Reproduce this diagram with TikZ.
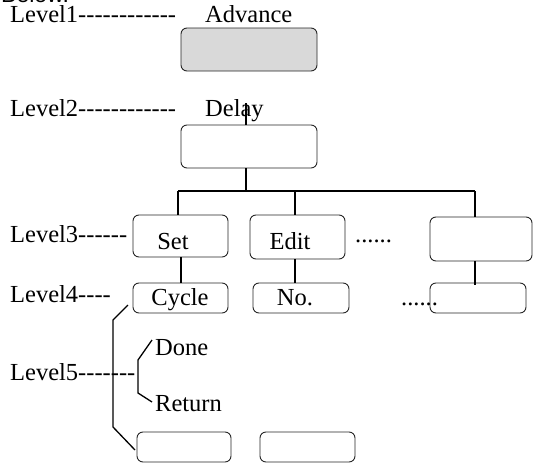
\documentclass[tikz,border=0pt]{standalone}
\usepackage{fontspec}
\setmainfont{Liberation Serif}[Ligatures=TeXOff]
\newfontfamily\belowfont{Liberation Sans}
\begin{document}
\begin{tikzpicture}[x=1pt,y=-1pt,
  box/.style={draw=black!85,line width=0.9pt,rounded corners=6pt,inner sep=0pt},
  conn/.style={draw=black,line width=1.4pt},
  lbl/.style={inner sep=0pt,font=\fontsize{24.5}{28}\selectfont},
  every node/.style={inner sep=0pt}]
\useasboundingbox (0,0) rectangle (533,463);
% partially visible heading
\node[anchor=base west,font=\belowfont\fontsize{23}{27}\selectfont] (below) at (1,2) {Below.};
% level labels
\node[lbl,anchor=base west] (l1) at (10,22) {Level1------------};
\node[lbl,anchor=base west] (l2) at (10,116) {Level2------------};
\node[lbl,anchor=base west] (l3) at (10,242) {Level3------};
\node[lbl,anchor=base west] (l4) at (10,302) {Level4----};
\node[lbl,anchor=base west] (l5) at (10,380) {Level5-------};
% boxes
\node[box,fill=black!15,minimum width=136pt,minimum height=43pt] (b1) at (249,49.5) {};
\node[box,minimum width=136pt,minimum height=43pt] (b2) at (249,146.5) {};
\node[box,minimum width=95pt,minimum height=42pt] (set) at (180.5,236) {};
\node[box,minimum width=95pt,minimum height=44pt] (edit) at (297.5,237) {};
\node[box,minimum width=102pt,minimum height=44pt] (r3) at (481,239) {};
\node[box,minimum width=95pt,minimum height=30pt] (cyc) at (180.5,298) {};
\node[box,minimum width=96pt,minimum height=30pt] (no) at (301,298) {};
\node[box,minimum width=96pt,minimum height=30pt] (r4) at (478,298) {};
\node[box,minimum width=94pt,minimum height=30pt] (ba) at (184,447) {};
\node[box,minimum width=95pt,minimum height=30pt] (bb) at (307.5,447) {};
% texts
\node[lbl,anchor=base west] (adv) at (205,22) {Advance};
\node[lbl,anchor=base west] (delay) at (205,116) {Delay};
\node[lbl,anchor=base] (tset) at (173,249) {Set};
\node[lbl,anchor=base] (tedit) at (290,249) {Edit};
\node[lbl,anchor=base] (tcyc) at (180,305) {Cycle};
\node[lbl,anchor=base] (tno) at (295,305) {No.};
\node[lbl,anchor=base west] (dots3) at (355,242) {......};
\node[lbl,anchor=base west] (dots4) at (401,305) {......};
\node[lbl,anchor=base west] (done) at (155,355) {Done};
\node[lbl,anchor=base west] (ret) at (155,411) {Return};
% connectors
\coordinate (dtop) at (246,103);
\coordinate (j) at (246,191);
\coordinate (hl) at (178,191);
\coordinate (hm) at (295,191);
\coordinate (hr) at (475,191);
\draw[conn] (dtop |- b2.north) -- (dtop);
\draw[conn] (j |- b2.south) -- (j);
\draw[conn] (hl) -- (hr);
\draw[conn] (hl) -- (hl |- set.north);
\draw[conn] (hm) -- (hm |- edit.north);
\draw[conn] (hr) -- (hr |- r3.north);
\coordinate (c1) at (181,257);
\coordinate (c2) at (295,259);
\coordinate (c3) at (475,261);
\draw[conn] (c1 |- set.south) -- (c1 |- cyc.north);
\draw[conn] (c2 |- edit.south) -- (c2 |- no.north);
\draw[conn] (c3 |- r3.south) -- (475,285);
% brackets
\coordinate (k1) at (128,305);
\coordinate (k2) at (113,320);
\coordinate (k3) at (113,427);
\coordinate (k4) at (135,450);
\draw[conn,line width=1.3pt] (k1) -- (k2) -- (k3) -- (k4);
\coordinate (s1) at (152,340);
\coordinate (s2) at (138,360);
\coordinate (s3) at (138,393);
\coordinate (s4) at (152,402);
\draw[conn,line width=1.3pt] (s1) -- (s2) -- (s3) -- (s4);
\end{tikzpicture}
\end{document}
